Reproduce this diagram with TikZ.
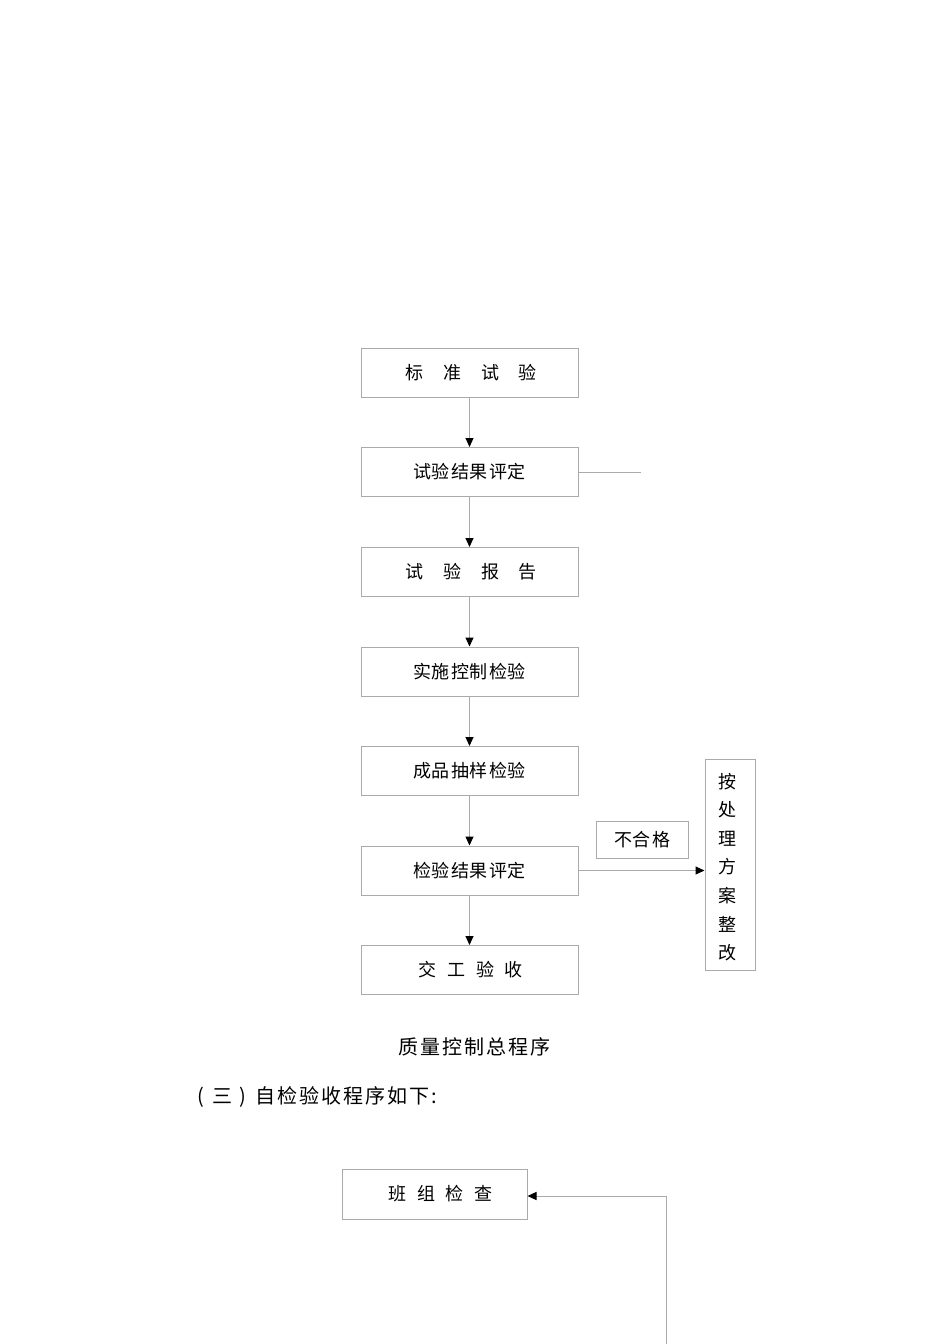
\documentclass[tikz,border=0pt]{standalone}
\usepackage{fontspec}
\setmainfont{Noto Sans CJK SC}
\usetikzlibrary{arrows.meta}
\definecolor{lgray}{RGB}{170,170,170}
\newcommand{\g}[1]{\hspace{#1pt}}
\begin{document}
\begin{tikzpicture}[x=1pt,y=-1pt,
  box/.style={draw=lgray,line width=1pt,minimum width=217pt,minimum height=49pt,inner sep=0pt,font=\fontsize{18}{18}\selectfont},
  conn/.style={draw=lgray,line width=1pt},
  arr/.style={conn,-{Triangle[length=9pt,width=8pt,color=black]}},
  txt/.style={inner sep=0pt,font=\fontsize{18}{18}\selectfont}]
\useasboundingbox (0,0) rectangle (950,1344);
\node[box] (b1) at (469.5,372.5) {\g{3}标\g{20}准\g{20}试\g{20}验};
\node[box] (b2) at (469.5,472) {试\g{1}验\g{1}结\g{1}果\g{1}评\g{1}定};
\node[box] (b3) at (469.5,572) {\g{3}试\g{20}验\g{20}报\g{20}告};
\node[box] (b4) at (469.5,671.5) {实\g{1}施\g{1}控\g{1}制\g{1}检\g{1}验};
\node[box] (b5) at (469.5,771) {成\g{1}品\g{1}抽\g{1}样\g{1}检\g{1}验};
\node[box] (b6) at (469.5,870.5) {检\g{1}验\g{1}结\g{1}果\g{1}评\g{1}定};
\node[box] (b7) at (469.5,970) {\g{2}交\g{11}工\g{11}验\g{11}收};
\node[draw=lgray,line width=1pt,minimum width=50pt,minimum height=211pt,inner sep=0pt] (r) at (730,864.5) {};
\node[txt,align=center,font=\fontsize{18}{28.6}\selectfont] (rt) at (727,867) {按\\处\\理\\方\\案\\整\\改};
\node[draw=lgray,line width=1pt,minimum width=92pt,minimum height=37pt,inner sep=0pt,font=\fontsize{18}{18}\selectfont] (bhg) at (642,839.5) {不\g{1}合\g{1}格};
\coordinate (stub) at (641,472);
\draw[arr] (b1) -- (b2);
\draw[arr] (b2) -- (b3);
\draw[arr] (b3) -- (b4);
\draw[arr] (b4) -- (b5);
\draw[arr] (b5) -- (b6);
\draw[arr] (b6) -- (b7);
\draw[conn] (b2.east) -- (stub);
\draw[arr] (b6.east) -- (r.west |- b6.east);
\node[txt,font=\fontsize{20}{20}\selectfont] (cap) at (474,1047) {质\g{2}量\g{2}控\g{2}制\g{2}总\g{2}程\g{2}序};
\node[txt,anchor=west,font=\fontsize{20}{20}\selectfont] (head) at (197,1097) {(\g{9}三\g{7})\g{9}自\g{2}检\g{2}验\g{2}收\g{2}程\g{2}序\g{2}如\g{2}下\g{2}:};
\node[draw=lgray,line width=1pt,minimum width=185pt,minimum height=50pt,inner sep=0pt,font=\fontsize{18}{18}\selectfont] (bz) at (434.5,1194) {\g{12}班\g{10.5}组\g{10.5}检\g{10.5}查};
\coordinate (c1) at (666,1344);
\coordinate (c2) at (666,1196);
\draw[arr] (c1) -- (c2) -- (bz.east |- c2);
\end{tikzpicture}
\end{document}
